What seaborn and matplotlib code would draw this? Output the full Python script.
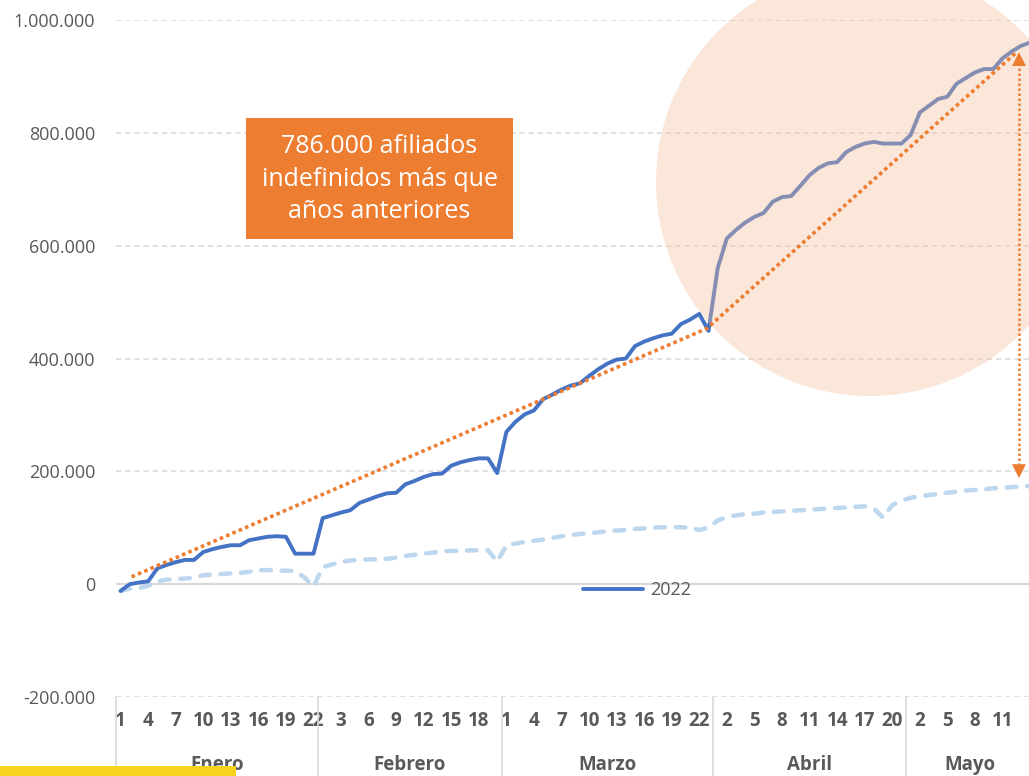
import numpy as np
import pandas as pd
import matplotlib
matplotlib.use('Agg')
import matplotlib.pyplot as plt
import matplotlib.transforms as mtransforms
from matplotlib.patches import Circle, Rectangle
import seaborn as sns

# datos (miles de afiliados)
months = ['Enero', 'Febrero', 'Marzo', 'Abril', 'Mayo']
days_in_month = [22, 20, 23, 21, 14]

afiliados_2022 = [
    -12, 0, 3, 5, 28, 34, 39, 43, 43, 57, 62, 66, 69, 69, 78, 81, 84, 85, 84, 54, 54, 54,
    117, 122, 127, 131, 144, 150, 156, 161, 162, 177, 183, 190, 195, 196, 210, 216, 220, 223, 223, 197,
    270, 288, 301, 308, 328, 336, 345, 352, 356, 369, 381, 391, 398, 400, 422, 430, 436, 441, 444, 461,
    469, 479, 449,
    560, 613, 628, 641, 651, 658, 678, 686, 688, 706, 725, 738, 746, 748, 766, 775, 781, 784, 781, 781, 781,
    796, 836, 848, 860, 864, 887, 897, 907, 913, 913, 932, 944, 954, 960,
]
afiliados_anteriores = [
    -12, -8, -7, -3, 5, 8, 9, 10, 11, 16, 17, 18, 19, 20, 22, 25, 25, 24, 24, 23, 12, -4,
    30, 35, 39, 42, 43, 44, 44, 45, 47, 50, 52, 54, 56, 58, 59, 59, 60, 60, 60, 40,
    69, 72, 75, 77, 79, 82, 85, 87, 89, 90, 92, 94, 95, 96, 98, 99, 100, 101, 101, 101, 100, 96, 100,
    113, 119, 122, 124, 125, 127, 128, 129, 130, 131, 132, 133, 134, 135, 136, 137, 138, 134, 118, 140, 148,
    153, 156, 158, 160, 162, 164, 166, 167, 168, 170, 171, 172, 173, 174,
]

# linea de tendencia y flecha de diferencia (indice de dia, miles)
trend_x = [1.2, 63.8, 97.4]
trend_y = [13, 453, 941]
gap_x = 97.8
gap_top = 943
gap_bottom = 188

day_numbers = [d for n in days_in_month for d in range(1, n + 1)]
df = pd.DataFrame({
    'dia': np.arange(len(day_numbers)),
    'y2022': np.array(afiliados_2022) * 1000,
    'anteriores': np.array(afiliados_anteriores) * 1000,
})

sns.set_style('white')
plt.rcParams['font.family'] = ['Open Sans', 'DejaVu Sans']

W, H = 1029, 776
fig = plt.figure(figsize=(W / 100, H / 100), dpi=100)
ax = fig.add_axes([116 / W, (H - 697) / H, (1034.6 - 116) / W, 677 / H])

gray = '#595959'
orange = '#ED7D31'

sns.lineplot(data=df, x='dia', y='anteriores', ax=ax, color='#BDD7EE', lw=3.2,
             linestyle=(0, (2.2, 2.4)), dash_capstyle='round', zorder=2)
sns.lineplot(data=df, x='dia', y='y2022', ax=ax, color='#4472C4', lw=2.8,
             solid_joinstyle='round', solid_capstyle='round', zorder=2.5, label='2022')
line2022 = ax.lines[-1]

# circulo resaltado
ax.add_patch(Circle((8.70, (H - 182) / 100), 2.14, transform=fig.dpi_scale_trans,
                    facecolor='#F6BE98', alpha=0.37, edgecolor='none', zorder=3, clip_on=False))

# tendencia punteada
ax.plot(trend_x, np.array(trend_y) * 1000, color=orange, lw=2.6,
        linestyle=(0, (1, 0.9)), zorder=4)
ax.plot([gap_x, gap_x], [gap_top * 1000 - 20000, gap_bottom * 1000 + 20000], color=orange,
        lw=1.8, linestyle=(0, (1, 1)), zorder=4)
for tip, base in [(gap_top, gap_top - 25), (gap_bottom, gap_bottom + 25)]:
    ax.annotate('', xy=(gap_x, tip * 1000), xytext=(gap_x, base * 1000),
                arrowprops=dict(arrowstyle='-|>,head_length=0.5,head_width=0.25',
                                color=orange, lw=0, shrinkA=0, shrinkB=0, mutation_scale=20),
                zorder=4)

# ejes
ax.set_xlim(-0.5, len(day_numbers) - 0.5)
ax.set_ylim(-200000, 1000000)
yticks = np.arange(-200000, 1000001, 200000)
ax.set_yticks(yticks)
ax.set_yticklabels([f'{v:,.0f}'.replace(',', '.') for v in yticks])
ax.yaxis.grid(True, color='#D9D9D9', linestyle=(0, (3.5, 2.5)), lw=1.1)
ax.set_axisbelow(True)
ax.axhline(0, color='#D9D9D9', lw=1.6, zorder=1)
for s in ax.spines.values():
    s.set_visible(False)
ax.tick_params(axis='y', length=0, pad=15, labelsize=13, labelcolor=gray)

# etiquetas de dia cada 3 (la ultima queda fuera del recorte)
tick_idx = [i for i in df['dia'][::3] if i < len(day_numbers) - 1]
ax.set_xticks(tick_idx)
ax.set_xticklabels([str(day_numbers[i]) for i in tick_idx])
ax.tick_params(axis='x', length=0, pad=10, labelsize=13.5, labelcolor=gray)
for lbl in ax.get_xticklabels():
    lbl.set_fontweight('bold')
ax.set_xlabel('')
ax.set_ylabel('')

trans = mtransforms.blended_transform_factory(ax.transData, ax.transAxes)
start = 0
bounds = [-0.5]
for name, n in zip(months, days_in_month):
    ax.text(start + n / 2 - 0.5, -0.100, name, transform=trans, ha='center', va='center',
            fontsize=13.5, fontweight='bold', color=gray)
    start += n
    bounds.append(start - 0.5)
for b in bounds:
    ax.plot([b, b], [0, -0.13], transform=trans, color='#D9D9D9', lw=1.2, clip_on=False)

ax.legend(handles=[line2022], labels=['2022'], loc='center',
          bbox_to_anchor=(637 / W, 1 - 590 / H), bbox_transform=fig.transFigure,
          frameon=False, fontsize=13, handlelength=3.3, handletextpad=0.4,
          labelcolor=gray)

# cuadro de texto
fig.add_artist(Rectangle((2.46, (H - 239) / 100), 2.67, 1.21, transform=fig.dpi_scale_trans,
                         facecolor=orange, edgecolor='none', zorder=5))
fig.text(3.795, (H - 179) / 100, '786.000 afiliados\nindefinidos más que\naños anteriores',
         transform=fig.dpi_scale_trans, ha='center', va='center', color='white',
         fontsize=18, linespacing=1.4, zorder=6)

# franja amarilla inferior
fig.add_artist(Rectangle((0, 0), 2.36, 0.10, transform=fig.dpi_scale_trans,
                         facecolor='#F6D31C', edgecolor='none', zorder=7))

fig.savefig('out.png', dpi=100)
